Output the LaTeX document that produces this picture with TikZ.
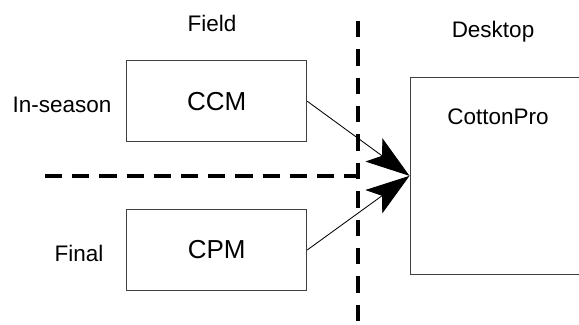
\documentclass[tikz,border=0pt]{standalone}
\usepackage{fontspec}
\setmainfont{Liberation Sans}
\usetikzlibrary{arrows.meta,positioning}

\begin{document}
\begin{tikzpicture}[
    box/.style={draw=black!75, line width=0.7pt, minimum width=4.5cm, minimum height=2.03cm,
                font=\fontsize{18.5}{20}\selectfont},
    lbl/.style={anchor=base, font=\fontsize{16}{18}\selectfont},
    divider/.style={line width=2.3pt, dash pattern=on 0.41cm off 0.3cm},
    feed/.style={line width=0.6pt, -{Stealth[length=1.1cm, width=0.72cm, inset=0.25cm]}}
]
    \useasboundingbox (0,0) rectangle (14.475,8.1);

    % Column headings
    \node[lbl] (field) at (5.3,7.308) {Field};
    \node[lbl] (desktop) at (12.325,7.168) {Desktop};

    % Field tools and their timing
    \node[box] (ccm) at (5.4175,5.57) {CCM};
    \node[box] (cpm) at (5.4175,1.85) {CPM};
    \node[lbl] (inseason) at (1.55,5.29) {In-season};
    \node[lbl] (final) at (1.975,1.558) {Final};

    % Desktop program (runs off the right edge)
    \node[draw=black!75, line width=0.7pt, minimum width=4.5cm, minimum height=4.91cm] (cpro) at (12.5,3.704) {};
    \node[lbl] (cprolbl) at (12.45,5.0) {CottonPro};

    % Dividers
    \coordinate (vtop) at (8.95,7.58);
    \coordinate (vbot) at (8.95,-0.1);
    \coordinate (hleft) at (1.125,3.7);
    \coordinate (hright) at (8.95,3.7);
    \draw[divider] (vtop) -- (vbot);
    \draw[divider, dash pattern=on 0.43cm off 0.25cm] (hleft) -- (hright);

    % Data flow into CottonPro
    \draw[feed] (ccm.east) -- (cpro.west);
    \draw[feed] (cpm.east) -- (cpro.west);
\end{tikzpicture}
\end{document}
